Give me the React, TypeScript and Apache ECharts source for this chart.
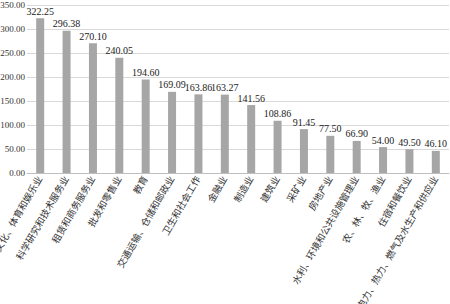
import React, { useEffect, useRef } from "react";
import * as echarts from "echarts";

const categories = [
  "文化、体育和娱乐业",
  "科学研究和技术服务业",
  "租赁和商务服务业",
  "批发和零售业",
  "教育",
  "交通运输、仓储和邮政业",
  "卫生和社会工作",
  "金融业",
  "制造业",
  "建筑业",
  "采矿业",
  "房地产业",
  "水利、环境和公共设施管理业",
  "农、林、牧、渔业",
  "住宿和餐饮业",
  "电力、热力、燃气及水生产和供应业",
];
const values = [322.25, 296.38, 270.1, 240.05, 194.6, 169.09, 163.86, 163.27, 141.56, 108.86, 91.45, 77.5, 66.9, 54.0, 49.5, 46.1];

export default function App() {
  const ref = useRef<HTMLDivElement>(null);
  useEffect(() => {
    const chart = echarts.init(ref.current!, undefined, { renderer: "svg" });
    const serif = "'Liberation Serif', 'Noto Sans CJK SC', serif";
    chart.setOption({
      animation: false,
      grid: { left: 27, right: 1, top: 5, bottom: 131, outerBoundsMode: "none", containLabel: false },
      xAxis: {
        type: "category",
        data: categories,
        axisLine: { lineStyle: { color: "#bfbfbf" } },
        axisTick: { show: false },
        axisLabel: {
          rotate: 60,
          interval: 0,
          fontSize: 9.5,
          color: "#333",
          fontFamily: serif,
          margin: 4,
        },
      },
      yAxis: {
        type: "value",
        min: 0,
        max: 350,
        interval: 50,
        axisLine: { show: false },
        axisTick: { show: false },
        splitLine: { lineStyle: { color: "#d9d9d9" } },
        axisLabel: {
          fontSize: 9,
          color: "#333",
          fontFamily: serif,
          margin: 2,
          formatter: (v: number) => v.toFixed(2),
        },
      },
      series: [
        {
          type: "bar",
          data: values,
          barWidth: 8,
          itemStyle: { color: "#a6a6a6" },
          label: {
            show: true,
            position: "top",
            distance: 2,
            fontSize: 10,
            color: "#222",
            fontFamily: serif,
            formatter: (p: any) => Number(p.value).toFixed(2),
          },
        },
      ],
    });
    return () => chart.dispose();
  }, []);
  return (
    <div
      ref={ref}
      style={{ position: "absolute", left: 0, top: 0, width: 450, height: 304, background: "#fff" }}
    />
  );
}
